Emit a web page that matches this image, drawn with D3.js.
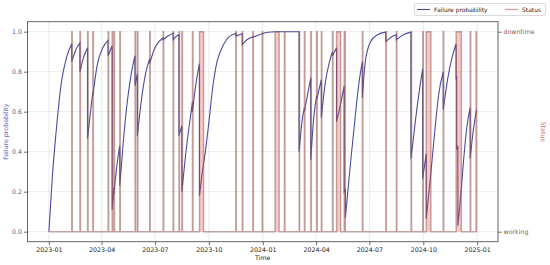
<!DOCTYPE html>
<html>
<head>
<meta charset="utf-8">
<script src="https://cdn.jsdelivr.net/npm/d3@7"></script>
<style>
    body { margin: 0; background: #fff; }
    #chart-area { width: 550px; height: 265px; }
    text { font-family: "DejaVu Sans", sans-serif; }
</style>
</head>
<body>
<div id="chart-area"></div>
<script>
// Downtime periods [start, back to working]
const downtimePeriods = [
    ["2023-02-09", "2023-02-10"], ["2023-02-23", "2023-02-24"], ["2023-03-08", "2023-03-09"],
    ["2023-03-17", "2023-03-18"], ["2023-04-12", "2023-04-13"], ["2023-04-19", "2023-04-20"],
    ["2023-04-22", "2023-04-23"], ["2023-05-02", "2023-05-03"], ["2023-05-28", "2023-05-29"],
    ["2023-06-01", "2023-06-02"], ["2023-06-22", "2023-06-23"], ["2023-07-15", "2023-07-16"],
    ["2023-08-01", "2023-08-02"], ["2023-08-11", "2023-08-12"], ["2023-08-16", "2023-08-17"],
    ["2023-09-03", "2023-09-04"], ["2023-09-15", "2023-09-22"], ["2023-11-16", "2023-11-17"],
    ["2023-11-27", "2023-11-28"], ["2023-12-15", "2023-12-16"], ["2023-12-31", "2024-01-01"],
    ["2024-01-22", "2024-01-29"], ["2024-02-07", "2024-02-08"], ["2024-03-03", "2024-03-04"],
    ["2024-03-12", "2024-03-13"], ["2024-03-23", "2024-03-24"], ["2024-04-02", "2024-04-03"],
    ["2024-04-10", "2024-04-11"], ["2024-04-29", "2024-04-30"], ["2024-05-06", "2024-05-13"],
    ["2024-05-19", "2024-05-21"], ["2024-06-19", "2024-06-20"], ["2024-07-29", "2024-07-30"],
    ["2024-08-16", "2024-08-17"], ["2024-09-10", "2024-09-11"], ["2024-09-30", "2024-10-01"],
    ["2024-10-06", "2024-10-14"], ["2024-11-04", "2024-11-05"], ["2024-11-26", "2024-12-05"],
    ["2024-12-20", "2024-12-21"], ["2024-12-30", "2024-12-31"]
];

const dataStart = "2023-01-01";
const dataEnd = "2024-12-31";

// Failure probability readings; a repeated date marks a drop
const probPoints = [
    ["2023-01-01", 0], ["2023-01-07", 0.28], ["2023-01-14", 0.52], ["2023-01-22", 0.74],
    ["2023-01-31", 0.87], ["2023-02-09", 0.94], ["2023-02-09", 0.85], ["2023-02-16", 0.91],
    ["2023-02-23", 0.945], ["2023-02-23", 0.80], ["2023-03-01", 0.87], ["2023-03-08", 0.92],
    ["2023-03-08", 0.465], ["2023-03-13", 0.60], ["2023-03-17", 0.70], ["2023-03-17", 0.68],
    ["2023-03-25", 0.84], ["2023-04-03", 0.92], ["2023-04-12", 0.957], ["2023-04-12", 0.88],
    ["2023-04-19", 0.93], ["2023-04-19", 0.11], ["2023-04-22", 0.22], ["2023-04-22", 0.19],
    ["2023-04-27", 0.33], ["2023-05-02", 0.43], ["2023-05-02", 0.23], ["2023-05-08", 0.45],
    ["2023-05-14", 0.63], ["2023-05-21", 0.78], ["2023-05-28", 0.88], ["2023-05-28", 0.73],
    ["2023-06-01", 0.79], ["2023-06-01", 0.48], ["2023-06-08", 0.66], ["2023-06-15", 0.79],
    ["2023-06-22", 0.865], ["2023-06-22", 0.84], ["2023-07-01", 0.92], ["2023-07-08", 0.95],
    ["2023-07-15", 0.97], ["2023-07-15", 0.96], ["2023-07-24", 0.98], ["2023-08-01", 0.993],
    ["2023-08-01", 0.96], ["2023-08-06", 0.975], ["2023-08-11", 0.985], ["2023-08-11", 0.48],
    ["2023-08-16", 0.53], ["2023-08-16", 0.20], ["2023-08-23", 0.40], ["2023-08-28", 0.52],
    ["2023-09-03", 0.65], ["2023-09-03", 0.60], ["2023-09-09", 0.74], ["2023-09-15", 0.84],
    ["2023-09-15", 0.18], ["2023-09-20", 0.30], ["2023-09-25", 0.40], ["2023-09-30", 0.52],
    ["2023-10-08", 0.73], ["2023-10-15", 0.85], ["2023-10-22", 0.91], ["2023-10-31", 0.96],
    ["2023-11-16", 0.992], ["2023-11-16", 0.978], ["2023-11-27", 0.99], ["2023-11-27", 0.935],
    ["2023-12-05", 0.96], ["2023-12-15", 0.975], ["2023-12-15", 0.972], ["2023-12-31", 0.99],
    ["2024-01-10", 0.997], ["2024-01-22", 1.0], ["2024-03-03", 1.0], ["2024-03-03", 0.40],
    ["2024-03-08", 0.55], ["2024-03-12", 0.62], ["2024-03-12", 0.60], ["2024-03-23", 0.77],
    ["2024-03-23", 0.36], ["2024-03-28", 0.57], ["2024-04-02", 0.68], ["2024-04-02", 0.66],
    ["2024-04-10", 0.76], ["2024-04-10", 0.57], ["2024-04-17", 0.75], ["2024-04-24", 0.85],
    ["2024-04-29", 0.90], ["2024-04-29", 0.88], ["2024-05-06", 0.92], ["2024-05-06", 0.55],
    ["2024-05-13", 0.64], ["2024-05-19", 0.73], ["2024-05-19", 0.20], ["2024-05-21", 0.21],
    ["2024-05-21", 0.07], ["2024-05-30", 0.35], ["2024-06-08", 0.61], ["2024-06-13", 0.74],
    ["2024-06-19", 0.85], ["2024-06-19", 0.67], ["2024-06-24", 0.85], ["2024-07-03", 0.95],
    ["2024-07-15", 0.985], ["2024-07-29", 0.998], ["2024-07-29", 0.95], ["2024-08-08", 0.975],
    ["2024-08-16", 0.985], ["2024-08-16", 0.96], ["2024-08-28", 0.985], ["2024-09-10", 0.998],
    ["2024-09-10", 0.365], ["2024-09-18", 0.565], ["2024-09-25", 0.72], ["2024-09-30", 0.815],
    ["2024-09-30", 0.265], ["2024-10-06", 0.39], ["2024-10-06", 0.065], ["2024-10-13", 0.265],
    ["2024-10-21", 0.515], ["2024-10-27", 0.68], ["2024-11-04", 0.80], ["2024-11-04", 0.61],
    ["2024-11-12", 0.77], ["2024-11-19", 0.87], ["2024-11-26", 0.94], ["2024-11-26", 0.76],
    ["2024-11-27", 0.78], ["2024-11-27", 0.41], ["2024-11-29", 0.43], ["2024-11-29", 0.03],
    ["2024-12-05", 0.22], ["2024-12-08", 0.33], ["2024-12-14", 0.515], ["2024-12-20", 0.62],
    ["2024-12-20", 0.365], ["2024-12-25", 0.50], ["2024-12-31", 0.61]
];

const yTicks = [0, 0.2, 0.4, 0.6, 0.8, 1.0];
const statusLabels = ["working", "downtime"];
const legendLabels = ["Failure probability", "Status"];

const probColour = "#4b4b9e";
const statusColour = "#8c564b";
const fillColour = "#e64a4a";

const parseDate = d3.timeParse("%Y-%m-%d");

let margin = {top: 21.7, right: 52, bottom: 23.3, left: 27.5};
let width = 550 - margin.left - margin.right;
let height = 265 - margin.top - margin.bottom;

let svg = d3.select("#chart-area").append("svg")
    .attr("width", 550)
    .attr("height", 265)
    .append("g")
    .attr("transform", `translate(${margin.left}, ${margin.top})`);

// Scales with matplotlib-like 5% padding
let t0 = parseDate(dataStart), t1 = parseDate(dataEnd);
let pad = (t1 - t0) * 0.05;
let x = d3.scaleTime()
    .domain([new Date(+t0 - pad), new Date(+t1 + pad)])
    .range([0, width]);

let y = d3.scaleLinear()
    .domain([-0.05, 1.05])
    .range([height, 0]);

// Grid
let xTickValues = d3.timeMonth.every(3).range(parseDate("2023-01-01"), parseDate("2025-01-02"));

svg.append("g")
    .attr("class", "grid")
    .selectAll("line.xg")
    .data(xTickValues)
    .join("line")
    .attr("x1", d => x(d)).attr("x2", d => x(d))
    .attr("y1", 0).attr("y2", height)
    .attr("stroke", "#e6e6e6").attr("stroke-width", 0.8);

svg.append("g")
    .selectAll("line.yg")
    .data(yTicks)
    .join("line")
    .attr("x1", 0).attr("x2", width)
    .attr("y1", d => y(d)).attr("y2", d => y(d))
    .attr("stroke", "#e6e6e6").attr("stroke-width", 0.8);

// Failure probability: split into segments at drops, join into one path
let pts = probPoints.map(d => ({date: parseDate(d[0]), value: d[1]}));
let segments = [];
pts.forEach((p, i) => {
    if (i === 0 || +p.date === +pts[i - 1].date) segments.push([]);
    segments[segments.length - 1].push(p);
});

let probLine = d3.line()
    .x(d => x(d.date))
    .y(d => y(d.value))
    .curve(d3.curveMonotoneX);

let probPath = segments.map((s, i) => {
    let str = probLine(s);
    return i === 0 ? str : str.replace(/^M/, "L");
}).join("");

svg.append("path")
    .attr("d", probPath)
    .attr("fill", "none")
    .attr("stroke", probColour)
    .attr("stroke-width", 1.1);

// Status step data
let statusData = [{date: parseDate(dataStart), value: 0}];
downtimePeriods.forEach(d => {
    statusData.push({date: parseDate(d[0]), value: 1});
    statusData.push({date: parseDate(d[1]), value: 0});
});
statusData.push({date: parseDate(dataEnd), value: 0});

svg.append("path")
    .datum(statusData)
    .attr("d", d3.area()
        .x(d => x(d.date))
        .y0(y(0))
        .y1(d => y(d.value))
        .curve(d3.curveStepAfter))
    .attr("fill", fillColour)
    .attr("fill-opacity", 0.3);

svg.append("path")
    .datum(statusData)
    .attr("d", d3.line()
        .x(d => x(d.date))
        .y(d => y(d.value))
        .curve(d3.curveStepAfter))
    .attr("fill", "none")
    .attr("stroke", statusColour)
    .attr("stroke-opacity", 0.5)
    .attr("stroke-width", 1.4);

// Axes
let xAxis = d3.axisBottom(x)
    .tickValues(xTickValues)
    .tickFormat(d3.timeFormat("%Y-%m"))
    .tickSize(3.5)
    .tickPadding(2);

let yAxis = d3.axisLeft(y)
    .tickValues(yTicks)
    .tickFormat(d3.format(".1f"))
    .tickSize(3.5)
    .tickPadding(2);

let yAxisRight = d3.axisRight(y)
    .tickValues([0, 1])
    .tickFormat(d => statusLabels[d])
    .tickSize(3.5)
    .tickPadding(2);

let gx = svg.append("g")
    .attr("transform", `translate(0, ${height})`)
    .call(xAxis);
gx.selectAll("text").attr("fill", "#222");

let gy = svg.append("g").call(yAxis);
gy.selectAll("text").attr("fill", "#5c5c96");

let gy2 = svg.append("g")
    .attr("transform", `translate(${width}, 0)`)
    .call(yAxisRight);
gy2.selectAll("text").attr("fill", "#8b5e3c");

[gx, gy, gy2].forEach(g => {
    g.select(".domain").remove();
    g.selectAll("line").attr("stroke", "#444").attr("stroke-width", 0.8);
    g.selectAll("text").style("font-size", "6.3px").style("font-family", "DejaVu Sans");
});

// Frame
svg.append("rect")
    .attr("width", width)
    .attr("height", height)
    .attr("fill", "none")
    .attr("stroke", "#555")
    .attr("stroke-width", 0.9);

// Axis labels
svg.append("text")
    .attr("x", width / 2)
    .attr("y", height + 18.5)
    .attr("text-anchor", "middle")
    .attr("fill", "#222")
    .style("font-size", "6.3px")
    .text("Time");

svg.append("text")
    .attr("transform", "rotate(-90)")
    .attr("x", -height / 2)
    .attr("y", -19.5)
    .attr("text-anchor", "middle")
    .attr("fill", "#6868c0")
    .style("font-size", "6.3px")
    .text("Failure probability");

svg.append("text")
    .attr("transform", "rotate(90)")
    .attr("x", height / 2)
    .attr("y", -(width + 43))
    .attr("text-anchor", "middle")
    .attr("fill", "#cc6b6b")
    .style("font-size", "6.3px")
    .text("Status");

// Legend
let legend = d3.select("#chart-area svg").append("g")
    .attr("class", "legend")
    .attr("transform", "translate(414.5, 3.5)");

legend.append("rect")
    .attr("width", 131)
    .attr("height", 12)
    .attr("rx", 1.5)
    .attr("fill", "#fff")
    .attr("stroke", "#d0d0d0")
    .attr("stroke-width", 0.8);

let legendX = [2.5, 90.5];
legendLabels.forEach((label, i) => {
    legend.append("line")
        .attr("x1", legendX[i]).attr("x2", legendX[i] + 13)
        .attr("y1", 6).attr("y2", 6)
        .attr("stroke", i === 0 ? probColour : statusColour)
        .attr("stroke-opacity", i === 0 ? 1 : 0.5)
        .attr("stroke-width", i === 0 ? 1.1 : 1.4);
    legend.append("text")
        .attr("x", legendX[i] + 17)
        .attr("y", 8.1)
        .attr("fill", "#222")
        .style("font-size", "6px")
        .text(label);
});
</script>
</body>
</html>
